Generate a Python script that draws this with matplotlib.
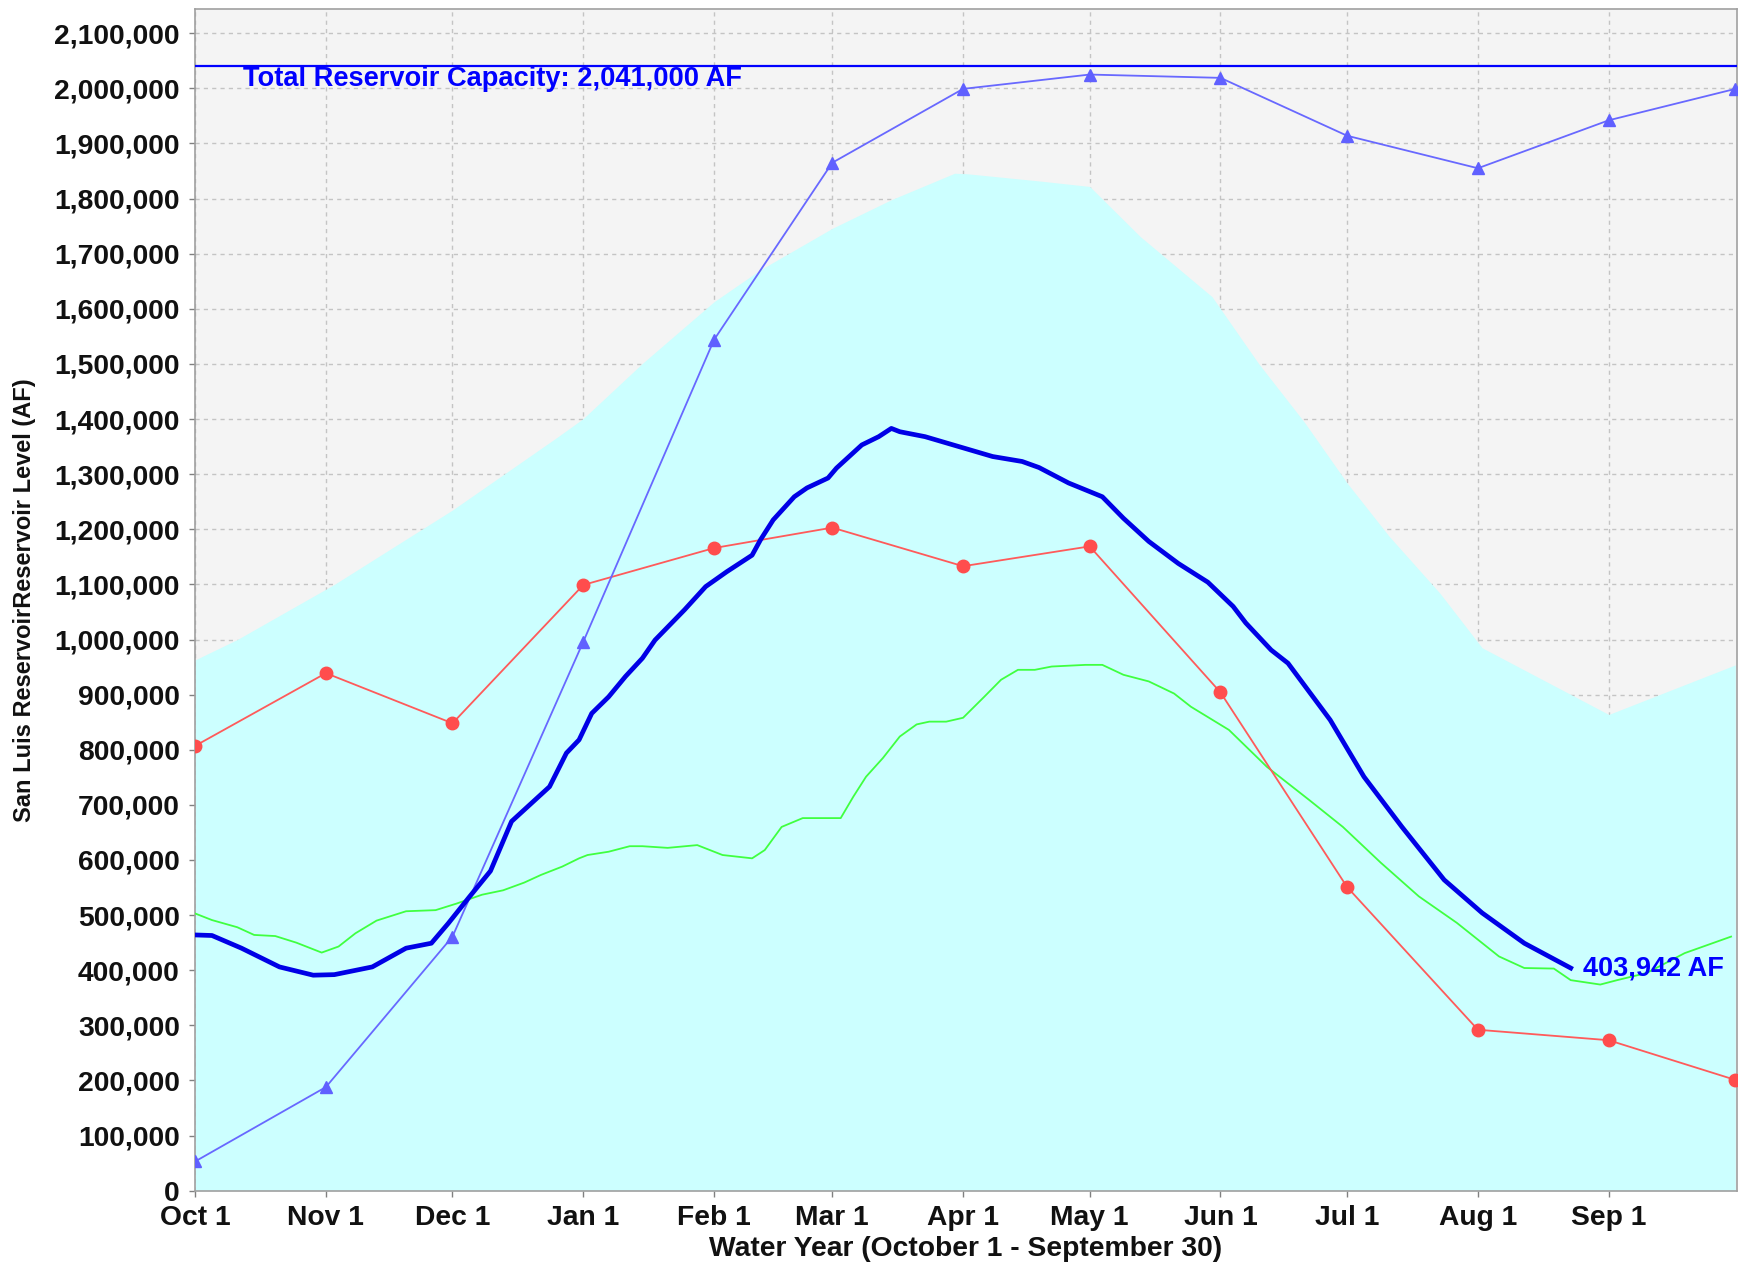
import numpy as np
import matplotlib
matplotlib.use("Agg")
import matplotlib.pyplot as plt
from matplotlib.ticker import FuncFormatter

# water-year day numbers (Oct 1 = 0)
month_days = [0, 31, 61, 92, 123, 151, 182, 212, 243, 273, 304, 335]
month_labels = ["Oct 1", "Nov 1", "Dec 1", "Jan 1", "Feb 1", "Mar 1", "Apr 1",
                "May 1", "Jun 1", "Jul 1", "Aug 1", "Sep 1"]

capacity = 2041000

# monthly series (first of month + Sep 30)
monthly_days = [0, 31, 61, 92, 123, 151, 182, 212, 243, 273, 304, 335, 365]
red_vals = [807000, 939000, 848000, 1099000, 1166000, 1203000, 1133000,
            1169000, 904000, 551000, 292000, 273000, 201000]
tri_vals = [53000, 188000, 461000, 996000, 1544000, 1865000, 1999000,
            2025000, 2019000, 1914000, 1855000, 1942000, 1999000]

# upper envelope (cyan area)
fill_days = [0, 10, 33, 61, 86, 92, 106, 123, 134, 151, 165, 180, 183, 200,
             212, 224, 241, 252, 263, 273, 283, 295, 305, 335, 365]
fill_vals = [963000, 1000000, 1100000, 1235000, 1368000, 1401000, 1501000,
             1613000, 1671000, 1746000, 1798000, 1846000, 1845000, 1832000,
             1822000, 1731000, 1622000, 1501000, 1393000, 1284000, 1187000,
             1084000, 985000, 864000, 954000]

# green (average) series
green_days = [0, 4, 10, 14, 19, 24, 30, 34, 38, 43, 50, 57, 62, 68, 73, 78, 82,
              87, 91, 93, 98, 103, 106, 112, 119, 125, 132, 135, 139, 144, 153,
              156, 159, 163, 167, 171, 174, 178, 182, 187, 191, 195, 199, 203,
              211, 215, 220, 226, 232, 236, 245, 254, 264, 272, 281, 290, 299,
              309, 315, 322, 326, 333, 337, 344, 353, 364]
green_vals = [503000, 491000, 478000, 464000, 462000, 450000, 432000, 443000,
              467000, 490000, 507000, 509000, 521000, 537000, 545000, 559000,
              573000, 588000, 603000, 609000, 615000, 625000, 625000, 622000,
              627000, 609000, 603000, 618000, 660000, 676000, 676000, 715000,
              751000, 785000, 824000, 846000, 851000, 851000, 858000, 896000,
              927000, 945000, 945000, 951000, 954000, 954000, 936000, 924000,
              902000, 878000, 836000, 769000, 709000, 660000, 595000, 534000,
              486000, 425000, 404000, 403000, 382000, 374000, 382000, 395000,
              431000, 461000]

# current water year (thick blue)
cur_days = [0, 4, 11, 20, 28, 33, 42, 50, 56, 60, 65, 70, 75, 84, 88, 91, 94,
            98, 102, 106, 109, 116, 121, 126, 132, 134, 137, 142, 145, 150, 152,
            158, 162, 165, 167, 173, 181, 189, 196, 200, 207, 215, 220, 226,
            233, 240, 246, 249, 255, 259, 269, 277, 286, 296, 305, 315, 326]
cur_vals = [464000, 463000, 440000, 406000, 391000, 392000, 406000, 440000,
            449000, 485000, 533000, 580000, 670000, 733000, 794000, 818000,
            866000, 896000, 933000, 966000, 999000, 1054000, 1096000, 1123000,
            1153000, 1181000, 1217000, 1259000, 1275000, 1293000, 1311000,
            1353000, 1368000, 1383000, 1377000, 1368000, 1350000, 1332000,
            1323000, 1312000, 1284000, 1259000, 1220000, 1178000, 1138000,
            1104000, 1060000, 1030000, 981000, 957000, 854000, 751000, 660000,
            564000, 504000, 449000, 403942]

font = "Liberation Sans"
plt.rcParams["font.family"] = [font, "DejaVu Sans"]
plt.rcParams["font.weight"] = "bold"

fig = plt.figure(figsize=(17.48, 12.62), dpi=100)
ax = fig.add_axes([0.1116, 0.0565, 0.8821, 0.9364])
ax.set_facecolor("#f4f4f4")

ax.fill_between(fill_days, 0, fill_vals, color="#ccffff", lw=0, zorder=1)
ax.plot(green_days, green_vals, color="#40ff40", lw=1.3, zorder=3)
ax.plot(monthly_days, red_vals, color="#ff5a5a", lw=1.3, marker="o", ms=9,
        mfc="#ff4d4d", mec="#ff4d4d", zorder=4)
ax.plot(monthly_days, tri_vals, color="#6868ff", lw=1.3, marker="^", ms=8.5,
        mfc="#6060ff", mec="#6060ff", zorder=4)
ax.axhline(capacity, color="#0000ff", lw=1.6, zorder=5)
ax.plot(cur_days, cur_vals, color="#0000e6", lw=3.4, zorder=6)

ax.text(11.4, 2017000, "Total Reservoir Capacity: 2,041,000 AF", color="#0000ff",
        fontsize=19.6, fontweight="bold", va="center", ha="left", zorder=7)
ax.text(cur_days[-1] + 2.8, cur_vals[-1], "{:,} AF".format(cur_vals[-1]),
        color="#0000ff", fontsize=19.5, fontweight="bold", va="center",
        ha="left", zorder=7)

ax.set_xlim(0, 365.4)
ax.set_ylim(0, 2144000)
ax.set_xticks(month_days)
ax.set_xticklabels(month_labels)
ax.set_yticks(np.arange(0, 2100001, 100000))
ax.yaxis.set_major_formatter(FuncFormatter(lambda v, p: "{:,}".format(int(v))))

ax.set_axisbelow(True)
ax.grid(True, color="#c4c4c4", lw=1.0, ls=(0, (3, 3)))
for s in ax.spines.values():
    s.set_color("#a0a0a0")
    s.set_linewidth(1.2)
ax.tick_params(axis="both", length=4, width=1, color="#808080",
               labelsize=20.3, labelcolor="#111111")
ax.tick_params(axis="y", pad=7)
ax.tick_params(axis="x", pad=6.5)
for lab in ax.get_xticklabels() + ax.get_yticklabels():
    lab.set_fontweight("bold")

ax.set_xlabel("Water Year (October 1 - September 30)", fontsize=20.3,
              fontweight="bold", color="#111111")
ax.xaxis.set_label_coords(0.5, -0.049)
ax.xaxis.label.set_va("center")
ax.set_ylabel("San Luis ReservoirReservoir Level (AF)", fontsize=17,
              fontweight="bold", color="#111111")
ax.yaxis.set_label_coords(-0.1106, 0.5)
ax.yaxis.label.set_va("center")

fig.savefig("out.png", dpi=100, facecolor="white")
